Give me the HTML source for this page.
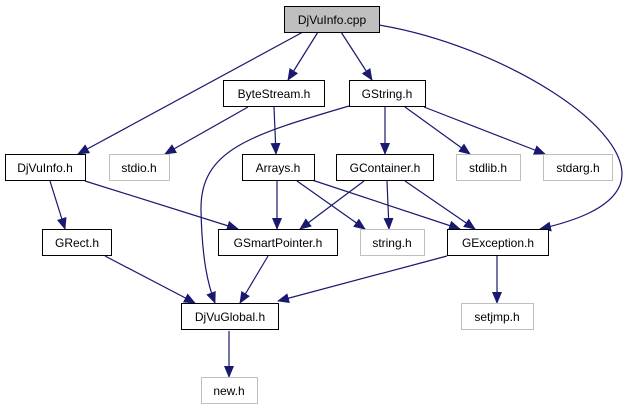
<!DOCTYPE html>
<html><head><meta charset="utf-8"><style>
body{margin:0;background:#fff;}
svg{display:block;}
text{font-family:"Liberation Sans",Arial,sans-serif;font-size:12px;text-anchor:middle;}
</style></head><body>
<svg width="628" height="411" viewBox="0 0 628 411">
<defs><marker id="a" markerWidth="12" markerHeight="10" refX="11" refY="5" orient="auto" markerUnits="userSpaceOnUse"><path d="M0,0 L12,5 L0,10 z" fill="#191970"/></marker></defs>
<g stroke="#191970" stroke-width="1.2" fill="none" marker-end="url(#a)">
<path d="M303,32 L78,154"/>
<path d="M318,32 L288,80"/>
<path d="M341,32 L372,80"/>
<path d="M379,25 C500,45 640,130 620,185 C610,210 570,222 540,229"/>
<path d="M248,107 L165,154"/>
<path d="M274,107 L276,154"/>
<path d="M349,106 C250,135 200,150 201,210 C202,260 208,285 215,303"/>
<path d="M385,107 L385,154"/>
<path d="M405,107 L470,154"/>
<path d="M424,107 L545,154"/>
<path d="M50,181 L65,229"/>
<path d="M85,181 L238,229"/>
<path d="M277,181 L277,229"/>
<path d="M297,181 L365,229"/>
<path d="M312,180 L460,229"/>
<path d="M364,181 L300,229"/>
<path d="M387,181 L389,229"/>
<path d="M405,181 L475,229"/>
<path d="M105,256 L195,303"/>
<path d="M268,256 L240,303"/>
<path d="M447,256 L278,301"/>
<path d="M497,256 L497,303"/>
<path d="M229,331 L229,377"/>
</g>
<g stroke-width="1">
<rect x="284.5" y="6.5" width="95" height="26" fill="#bfbfbf" stroke="#000"/>
<rect x="223.5" y="80.5" width="101" height="26" fill="#fff" stroke="#000"/>
<rect x="349.5" y="80.5" width="76" height="26" fill="#fff" stroke="#000"/>
<rect x="5.5" y="154.5" width="80" height="26" fill="#fff" stroke="#000"/>
<rect x="109.5" y="154.5" width="60" height="26" fill="#fff" stroke="#bfbfbf"/>
<rect x="242.5" y="154.5" width="72" height="26" fill="#fff" stroke="#000"/>
<rect x="336.5" y="154.5" width="97" height="26" fill="#fff" stroke="#000"/>
<rect x="456.5" y="154.5" width="64" height="26" fill="#fff" stroke="#bfbfbf"/>
<rect x="543.5" y="154.5" width="69" height="26" fill="#fff" stroke="#bfbfbf"/>
<rect x="42.5" y="229.5" width="69" height="26" fill="#fff" stroke="#000"/>
<rect x="218.5" y="229.5" width="119" height="26" fill="#fff" stroke="#000"/>
<rect x="360.5" y="229.5" width="64" height="26" fill="#fff" stroke="#bfbfbf"/>
<rect x="447.5" y="229.5" width="101" height="26" fill="#fff" stroke="#000"/>
<rect x="181.5" y="303.5" width="97" height="26" fill="#fff" stroke="#000"/>
<rect x="461.5" y="303.5" width="72" height="26" fill="#fff" stroke="#bfbfbf"/>
<rect x="201.5" y="377.5" width="56" height="26" fill="#fff" stroke="#bfbfbf"/>
</g>
<g fill="#000">
<text x="332" y="24">DjVuInfo.cpp</text>
<text x="274" y="98">ByteStream.h</text>
<text x="387" y="98">GString.h</text>
<text x="45" y="172">DjVuInfo.h</text>
<text x="139" y="172">stdio.h</text>
<text x="278" y="172">Arrays.h</text>
<text x="385" y="172">GContainer.h</text>
<text x="488" y="172">stdlib.h</text>
<text x="578" y="172">stdarg.h</text>
<text x="77" y="247">GRect.h</text>
<text x="278" y="247">GSmartPointer.h</text>
<text x="392" y="247">string.h</text>
<text x="498" y="247">GException.h</text>
<text x="230" y="321">DjVuGlobal.h</text>
<text x="497" y="321">setjmp.h</text>
<text x="229" y="395">new.h</text>
</g>
</svg>
</body></html>
